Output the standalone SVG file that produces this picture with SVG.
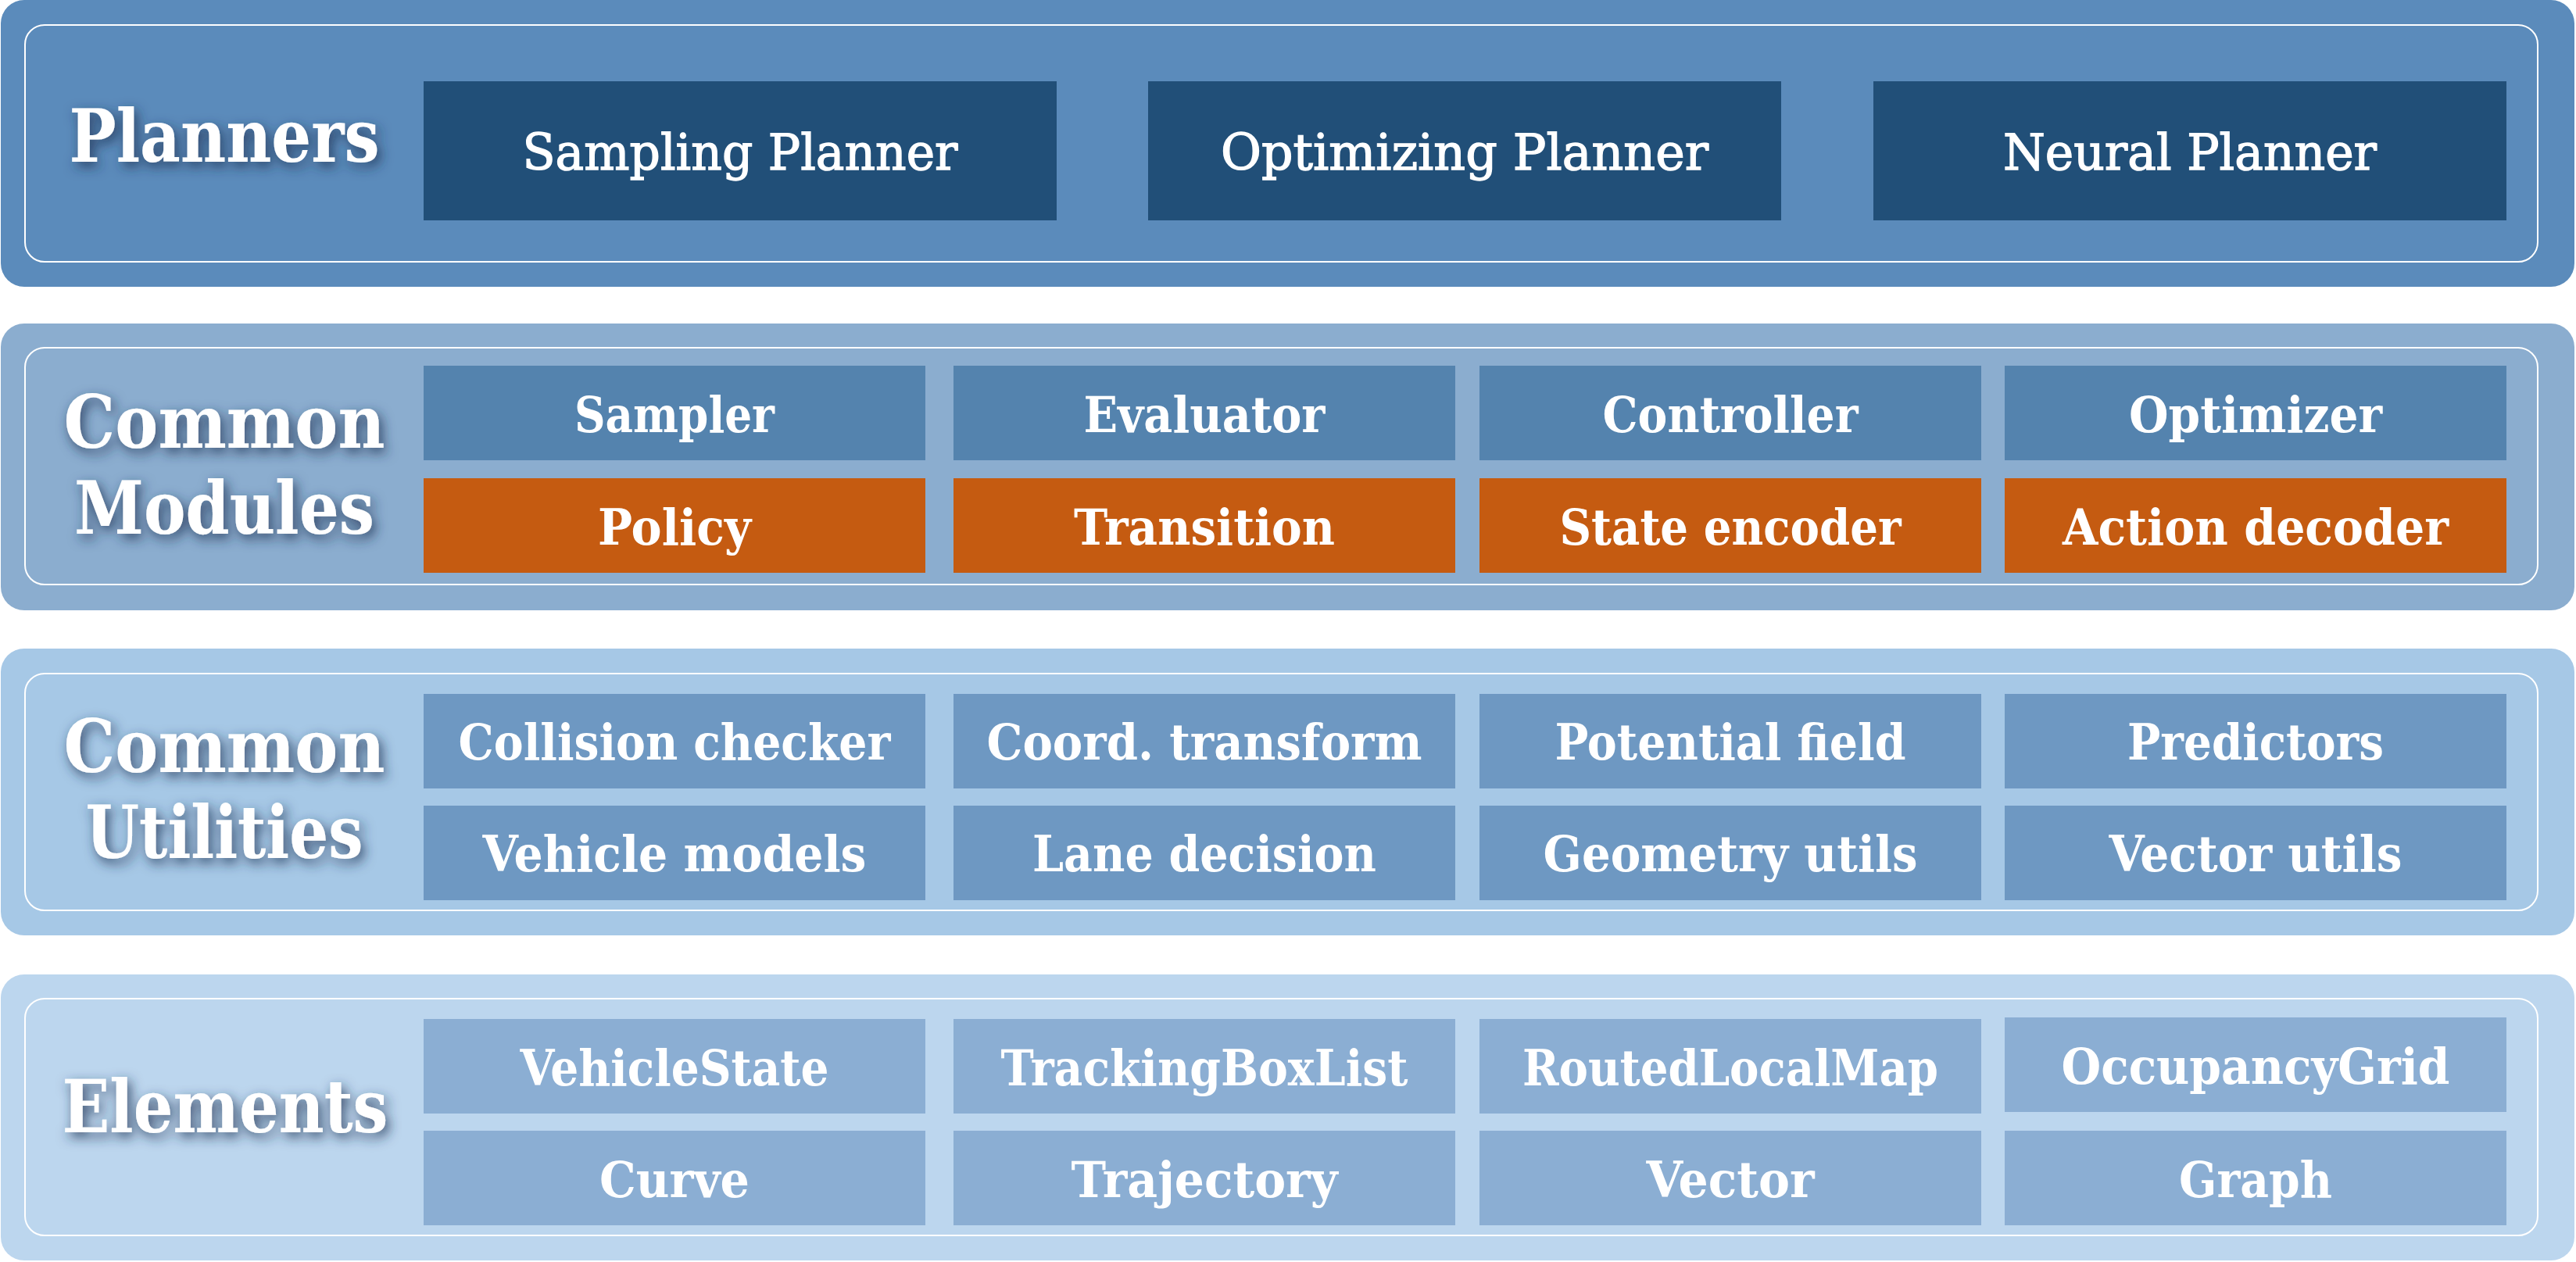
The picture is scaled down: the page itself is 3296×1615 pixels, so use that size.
<svg xmlns="http://www.w3.org/2000/svg" width="3296" height="1615" viewBox="0 0 3296 1615">
  <defs>
    <filter id="titleShadow" x="-20%" y="-40%" width="140%" height="180%">
      <feDropShadow dx="4" dy="6" stdDeviation="8" flood-color="#1a3352" flood-opacity="0.85"/>
    </filter>
    <style>
      .panel-outer { stroke: none; }
      .panel-inner { fill: none; stroke: #ffffff; stroke-width: 2; }
      .title { font-family: "DejaVu Serif", "Liberation Serif", serif; font-weight: bold; font-size: 94px; fill: #ffffff; text-anchor: middle; filter: url(#titleShadow); }
      .lbl { font-family: "DejaVu Serif", "Liberation Serif", serif; font-weight: bold; font-size: 63px; fill: #ffffff; text-anchor: middle; }
      .lbl-plan { font-family: "DejaVu Serif", "Liberation Serif", serif; font-weight: normal; font-size: 63px; fill: #ffffff; stroke: #ffffff; stroke-width: 1.4; text-anchor: middle; }
      .p1 { fill: #5b8bbb; }
      .p2 { fill: #8badcf; }
      .p3 { fill: #a6c8e6; }
      .p4 { fill: #bcd6ee; }
      .b-plan { fill: #214f78; }
      .b-mod { fill: #5483ae; }
      .b-ai { fill: #c55b11; }
      .b-util { fill: #6e98c2; }
      .b-elem { fill: #8baed3; }
    </style>
  </defs>

  <!-- Layer: Planners -->
  <g id="layer-planners">
    <rect class="panel-outer p1" x="1" y="0" width="3293" height="367" rx="30" ry="30"/>
    <rect class="panel-inner" x="32" y="32" width="3215" height="303" rx="25" ry="25"/>
    <text class="title" x="287" y="207" textLength="397" lengthAdjust="spacingAndGlyphs">Planners</text>
  </g>
  <g id="sampling-planner">
    <rect class="b-plan" x="542" y="104" width="810" height="178"/>
    <text class="lbl-plan" x="947" y="217" textLength="557" lengthAdjust="spacingAndGlyphs">Sampling Planner</text>
  </g>
  <g id="optimizing-planner">
    <rect class="b-plan" x="1469" y="104" width="810" height="178"/>
    <text class="lbl-plan" x="1874" y="217" textLength="624" lengthAdjust="spacingAndGlyphs">Optimizing Planner</text>
  </g>
  <g id="neural-planner">
    <rect class="b-plan" x="2397" y="104" width="810" height="178"/>
    <text class="lbl-plan" x="2802" y="217" textLength="478" lengthAdjust="spacingAndGlyphs">Neural Planner</text>
  </g>

  <!-- Layer: Common Modules -->
  <g id="layer-modules">
    <rect class="panel-outer p2" x="1" y="414" width="3293" height="367" rx="30" ry="30"/>
    <rect class="panel-inner" x="32" y="445" width="3215" height="303" rx="25" ry="25"/>
    <text class="title" x="287" y="573" textLength="411" lengthAdjust="spacingAndGlyphs">Common</text>
    <text class="title" x="287" y="683" textLength="384" lengthAdjust="spacingAndGlyphs">Modules</text>
  </g>
  <g id="sampler">
    <rect class="b-mod" x="542" y="468" width="642" height="121"/>
    <text class="lbl" x="863" y="553" textLength="256" lengthAdjust="spacingAndGlyphs">Sampler</text>
  </g>
  <g id="evaluator">
    <rect class="b-mod" x="1220" y="468" width="642" height="121"/>
    <text class="lbl" x="1541" y="553" textLength="309" lengthAdjust="spacingAndGlyphs">Evaluator</text>
  </g>
  <g id="controller">
    <rect class="b-mod" x="1893" y="468" width="642" height="121"/>
    <text class="lbl" x="2214" y="553" textLength="327" lengthAdjust="spacingAndGlyphs">Controller</text>
  </g>
  <g id="optimizer">
    <rect class="b-mod" x="2565" y="468" width="642" height="121"/>
    <text class="lbl" x="2886" y="553" textLength="324" lengthAdjust="spacingAndGlyphs">Optimizer</text>
  </g>
  <g id="policy">
    <rect class="b-ai" x="542" y="612" width="642" height="121"/>
    <text class="lbl" x="863" y="697" textLength="196" lengthAdjust="spacingAndGlyphs">Policy</text>
  </g>
  <g id="transition">
    <rect class="b-ai" x="1220" y="612" width="642" height="121"/>
    <text class="lbl" x="1541" y="697" textLength="334" lengthAdjust="spacingAndGlyphs">Transition</text>
  </g>
  <g id="state-encoder">
    <rect class="b-ai" x="1893" y="612" width="642" height="121"/>
    <text class="lbl" x="2214" y="697" textLength="437" lengthAdjust="spacingAndGlyphs">State encoder</text>
  </g>
  <g id="action-decoder">
    <rect class="b-ai" x="2565" y="612" width="642" height="121"/>
    <text class="lbl" x="2886" y="697" textLength="494" lengthAdjust="spacingAndGlyphs">Action decoder</text>
  </g>

  <!-- Layer: Common Utilities -->
  <g id="layer-utilities">
    <rect class="panel-outer p3" x="1" y="830" width="3293" height="367" rx="30" ry="30"/>
    <rect class="panel-inner" x="32" y="862" width="3215" height="303" rx="25" ry="25"/>
    <text class="title" x="287" y="988" textLength="411" lengthAdjust="spacingAndGlyphs">Common</text>
    <text class="title" x="287" y="1098" textLength="355" lengthAdjust="spacingAndGlyphs">Utilities</text>
  </g>
  <g id="collision-checker">
    <rect class="b-util" x="542" y="888" width="642" height="121"/>
    <text class="lbl" x="863" y="972" textLength="553" lengthAdjust="spacingAndGlyphs">Collision checker</text>
  </g>
  <g id="coord-transform">
    <rect class="b-util" x="1220" y="888" width="642" height="121"/>
    <text class="lbl" x="1541" y="972" textLength="557" lengthAdjust="spacingAndGlyphs">Coord. transform</text>
  </g>
  <g id="potential-field">
    <rect class="b-util" x="1893" y="888" width="642" height="121"/>
    <text class="lbl" x="2214" y="972" textLength="449" lengthAdjust="spacingAndGlyphs">Potential field</text>
  </g>
  <g id="predictors">
    <rect class="b-util" x="2565" y="888" width="642" height="121"/>
    <text class="lbl" x="2886" y="972" textLength="328" lengthAdjust="spacingAndGlyphs">Predictors</text>
  </g>
  <g id="vehicle-models">
    <rect class="b-util" x="542" y="1031" width="642" height="121"/>
    <text class="lbl" x="863" y="1115" textLength="491" lengthAdjust="spacingAndGlyphs">Vehicle models</text>
  </g>
  <g id="lane-decision">
    <rect class="b-util" x="1220" y="1031" width="642" height="121"/>
    <text class="lbl" x="1541" y="1115" textLength="440" lengthAdjust="spacingAndGlyphs">Lane decision</text>
  </g>
  <g id="geometry-utils">
    <rect class="b-util" x="1893" y="1031" width="642" height="121"/>
    <text class="lbl" x="2214" y="1115" textLength="479" lengthAdjust="spacingAndGlyphs">Geometry utils</text>
  </g>
  <g id="vector-utils">
    <rect class="b-util" x="2565" y="1031" width="642" height="121"/>
    <text class="lbl" x="2886" y="1115" textLength="375" lengthAdjust="spacingAndGlyphs">Vector utils</text>
  </g>

  <!-- Layer: Elements -->
  <g id="layer-elements">
    <rect class="panel-outer p4" x="1" y="1247" width="3293" height="366" rx="30" ry="30"/>
    <rect class="panel-inner" x="32" y="1278" width="3215" height="303" rx="25" ry="25"/>
    <text class="title" x="288" y="1449" textLength="417" lengthAdjust="spacingAndGlyphs">Elements</text>
  </g>
  <g id="vehicle-state">
    <rect class="b-elem" x="542" y="1304" width="642" height="121"/>
    <text class="lbl" x="863" y="1389" textLength="395" lengthAdjust="spacingAndGlyphs">VehicleState</text>
  </g>
  <g id="tracking-box-list">
    <rect class="b-elem" x="1220" y="1304" width="642" height="121"/>
    <text class="lbl" x="1541" y="1389" textLength="521" lengthAdjust="spacingAndGlyphs">TrackingBoxList</text>
  </g>
  <g id="routed-local-map">
    <rect class="b-elem" x="1893" y="1304" width="642" height="121"/>
    <text class="lbl" x="2214" y="1389" textLength="532" lengthAdjust="spacingAndGlyphs">RoutedLocalMap</text>
  </g>
  <g id="occupancy-grid">
    <rect class="b-elem" x="2565" y="1302" width="642" height="121"/>
    <text class="lbl" x="2886" y="1387" textLength="497" lengthAdjust="spacingAndGlyphs">OccupancyGrid</text>
  </g>
  <g id="curve">
    <rect class="b-elem" x="542" y="1447" width="642" height="121"/>
    <text class="lbl" x="863" y="1532" textLength="192" lengthAdjust="spacingAndGlyphs">Curve</text>
  </g>
  <g id="trajectory">
    <rect class="b-elem" x="1220" y="1447" width="642" height="121"/>
    <text class="lbl" x="1541" y="1532" textLength="341" lengthAdjust="spacingAndGlyphs">Trajectory</text>
  </g>
  <g id="vector">
    <rect class="b-elem" x="1893" y="1447" width="642" height="121"/>
    <text class="lbl" x="2214" y="1532" textLength="215" lengthAdjust="spacingAndGlyphs">Vector</text>
  </g>
  <g id="graph">
    <rect class="b-elem" x="2565" y="1447" width="642" height="121"/>
    <text class="lbl" x="2886" y="1532" textLength="196" lengthAdjust="spacingAndGlyphs">Graph</text>
  </g>

  <!-- no connectors between layers -->
  <g id="connectors"/>
</svg>
